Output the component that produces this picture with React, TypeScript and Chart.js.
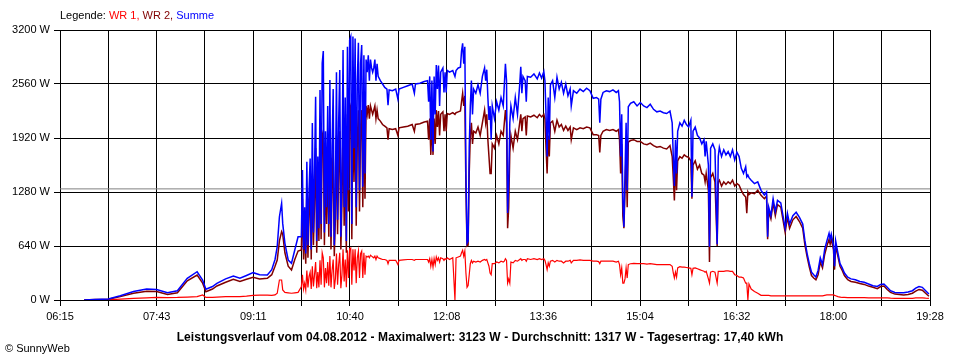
import React, { useEffect, useRef } from "react";
import { Chart, registerables } from "chart.js";

Chart.register(...registerables);

// time axis: minutes since midnight (06:15 .. 19:28)
const xStart = 375;
const xEnd = 1168;
const xTickLabels = [
  "06:15", "", "07:43", "", "09:11", "", "10:40", "", "12:08", "",
  "13:36", "", "15:04", "", "16:32", "", "18:00", "", "19:28",
];
const yMax = 3200;
const yStep = 640;
const averageW = 1317;

const times = [
  397, 407, 419, 430, 442, 454, 463, 473, 482, 491,
  500, 505, 508, 514, 518, 526, 533, 539, 545, 551,
  557, 564, 568, 571, 573, 575, 577, 578, 580, 583,
  586, 589, 592, 595, 596, 597, 598, 599, 600, 601,
  602, 603, 604, 605, 606, 607, 608, 609, 610, 611,
  612, 613, 614, 615, 616, 617, 618, 619, 620, 621,
  622, 623, 624, 625, 626, 627, 628, 629, 630, 631,
  632, 633, 634, 635, 636, 637, 638, 639, 640, 641,
  642, 643, 644, 645, 646, 647, 648, 649, 650, 651,
  652, 653, 654, 655, 656, 657, 658, 659, 660, 661,
  662, 663, 664, 665, 667, 669, 671, 673, 674, 675,
  678, 681, 683, 684, 688, 692, 696, 698, 699, 703,
  707, 710, 711, 712, 713, 714, 715, 716, 717, 718,
  719, 720, 721, 722, 724, 725, 726, 727, 728, 730,
  733, 735, 736, 738, 740, 741, 742, 743, 744, 745,
  746, 747, 748, 749, 750, 751, 752, 754, 756, 758,
  760, 762, 763, 764, 765, 766, 767, 768, 769, 771,
  773, 775, 777, 779, 780, 781, 782, 783, 784, 785,
  786, 788, 790, 792, 794, 795, 796, 797, 799, 800,
  801, 804, 807, 810, 812, 814, 816, 817, 818, 819,
  820, 821, 822, 824, 826, 828, 830, 832, 834, 836,
  838, 840, 841, 843, 846, 849, 852, 855, 858, 861,
  864, 866, 867, 868, 870, 873, 876, 879, 882, 884,
  885, 886, 887, 888, 889, 890, 891, 892, 893, 895,
  898, 901, 904, 907, 910, 913, 916, 919, 922, 925,
  928, 931, 933, 934, 935, 936, 937, 938, 940, 942,
  944, 946, 948, 950, 951, 952, 954, 956, 958, 960,
  962, 963, 964, 966, 967, 968, 970, 972, 974, 975,
  976, 978, 980, 982, 984, 986, 988, 990, 992, 994,
  996, 998, 1000, 1001, 1002, 1003, 1005, 1008, 1011, 1014,
  1017, 1019, 1020, 1021, 1023, 1025, 1027, 1029, 1032, 1034,
  1036, 1038, 1040, 1043, 1046, 1049, 1052, 1054, 1056, 1058,
  1060, 1062, 1064, 1066, 1068, 1070, 1072, 1074, 1076, 1077,
  1078, 1080, 1081, 1082, 1084, 1086, 1088, 1090, 1093, 1096,
  1100, 1104, 1108, 1112, 1116, 1120, 1123, 1126, 1129, 1132,
  1136, 1140, 1144, 1148, 1152, 1155, 1158, 1161, 1164, 1167,
];

const summe = [
  0, 5, 12, 50, 100, 130, 125, 85, 110, 257,
  335, 237, 127, 160, 198, 250, 284, 257, 290, 324,
  300, 296, 360, 480, 632, 987, 1146, 908, 672, 474,
  435, 593, 750, 750, 1540, 600, 1100, 550, 1639, 650,
  1300, 1678, 600, 2097, 800, 1500, 2409, 700, 1700, 850,
  2488, 900, 2805, 2950, 800, 2000, 1100, 2300, 900, 2607,
  750, 1800, 2500, 650, 1200, 2700, 950, 2100, 2726, 750,
  1500, 2962, 1100, 2400, 700, 3000, 1300, 3080, 3120, 900,
  3123, 1800, 3100, 1100, 2600, 3050, 1300, 2805, 3022, 1343,
  2900, 1500, 2850, 2700, 2900, 2600, 2850, 2750, 2700, 2750,
  2850, 2600, 2800, 2650, 2600, 2560, 2520, 2500, 2310, 2490,
  2480, 2500, 2380, 2500, 2520, 2540, 2560, 2450, 2560, 2570,
  2590, 2600, 2350, 2650, 1900, 2600, 1760, 2650, 2200, 2785,
  2500, 2780, 2300, 2700, 2750, 2460, 2700, 2460, 2720, 2700,
  2720, 2650, 2720, 2750, 2760, 2950, 3042, 2800, 3000, 1500,
  675, 700, 1800, 2300, 2600, 2200, 2500, 2450, 2550, 2450,
  2650, 2750, 2600, 2730, 2400, 2133, 2300, 1900, 2300, 2150,
  2350, 2250, 2400, 2300, 2550, 2800, 2600, 1030, 1400, 2100,
  2300, 2150, 2400, 2200, 2550, 2765, 2450, 2650, 2600, 2350,
  2650, 2640, 2680, 2620, 2690, 2630, 2706, 2600, 2200, 1700,
  2400, 1900, 2550, 2600, 2400, 2640, 2500, 2580, 2450, 2560,
  2420, 2500, 2300, 2480, 2450, 2500, 2470, 2510, 2480, 2390,
  2400, 2380, 2100, 2380, 2460, 2480, 2470, 2490, 2460, 2480,
  2350, 1700, 2200, 1200, 867, 1500, 2100, 1300, 2290, 2330,
  2350, 2300, 2340, 2300, 2280, 2320, 2260, 2230, 2240, 2220,
  2210, 2240, 2100, 1700, 1350, 1900, 1500, 2000, 2100, 2060,
  2130, 2080, 2050, 2130, 1225, 2000, 2050, 1950, 1920, 1850,
  1900, 1700, 1880, 1600, 632, 1800, 1850, 1780, 660, 1700,
  1810, 1700, 1780, 1720, 1760, 1700, 1780, 1660, 1750, 1700,
  1560, 1500, 1580, 1460, 1480, 1450, 1420, 1380, 1400, 1300,
  1245, 1280, 750, 1100, 1000, 1200, 1050, 1180, 1150, 1000,
  850, 1030, 900, 1000, 1040, 980, 900, 700, 550, 430,
  330, 300, 272, 350, 500, 420, 600, 700, 790, 720,
  780, 650, 400, 700, 560, 430, 380, 320, 270, 250,
  240, 220, 210, 190, 170, 160, 185, 190, 150, 110,
  90, 85, 85, 95, 110, 140, 160, 150, 110, 70,
];

const wr2 = [
  0, 5, 10, 40, 80, 105, 100, 65, 85, 227,
  296, 200, 98, 130, 166, 210, 245, 220, 245, 269,
  250, 257, 300, 400, 474, 700, 810, 780, 560, 400,
  356, 480, 580, 593, 1200, 480, 900, 430, 1300, 500,
  1000, 1350, 480, 1500, 650, 1150, 1800, 560, 1300, 700,
  1850, 720, 1950, 2000, 650, 1500, 900, 1700, 750, 1900,
  600, 1350, 1800, 520, 950, 1950, 780, 1550, 2000, 600,
  1150, 2100, 880, 1750, 560, 2200, 1050, 2250, 2300, 720,
  2350, 1400, 2300, 880, 1900, 2250, 1050, 2050, 2250, 1100,
  2150, 1200, 2300, 2200, 2310, 2150, 2300, 2250, 2200, 2250,
  2300, 2150, 2250, 2150, 2120, 2080, 2060, 2040, 1900, 2030,
  2020, 2030, 1950, 2040, 2050, 2060, 2080, 2000, 2080, 2090,
  2110, 2120, 1900, 2150, 1720, 2100, 1720, 2150, 1850, 2250,
  2050, 2240, 1950, 2200, 2230, 2000, 2200, 2000, 2210, 2200,
  2220, 2200, 2220, 2230, 2240, 2350, 2450, 2300, 2420, 1300,
  640, 650, 1500, 1950, 2100, 1850, 2000, 1980, 2050, 1950,
  2100, 2250, 2100, 2200, 1900, 1700, 1500, 1500, 1850, 1800,
  1950, 1850, 2000, 1950, 2100, 2250, 2100, 850, 1100, 1750,
  1950, 1800, 2000, 1900, 2100, 2200, 2000, 2150, 2170, 1950,
  2180, 2170, 2190, 2160, 2200, 2170, 2200, 2150, 1800, 1500,
  1950, 1700, 2100, 2120, 2000, 2130, 2050, 2080, 2010, 2060,
  2010, 2050, 1900, 2040, 2020, 2040, 2030, 2050, 2040, 1960,
  1960, 1950, 1750, 1950, 2000, 2020, 2010, 2020, 2000, 2020,
  1900, 1500, 1850, 1000, 850, 1300, 1750, 1100, 1870, 1890,
  1900, 1880, 1880, 1850, 1840, 1860, 1830, 1810, 1820, 1800,
  1790, 1830, 1700, 1450, 1180, 1600, 1300, 1650, 1700, 1680,
  1720, 1700, 1690, 1650, 1200, 1600, 1650, 1550, 1600, 1500,
  1480, 1400, 1500, 1300, 450, 1450, 1500, 1400, 640, 1400,
  1420, 1350, 1400, 1370, 1400, 1380, 1420, 1350, 1380, 1360,
  1300, 1250, 1220, 1030, 1280, 1250, 1270, 1260, 1300, 1240,
  1200, 1230, 720, 1050, 960, 1150, 1000, 1130, 1100, 950,
  800, 980, 850, 950, 990, 930, 850, 650, 510, 390,
  290, 260, 240, 300, 450, 380, 540, 640, 720, 660,
  720, 600, 360, 640, 520, 400, 350, 290, 240, 220,
  210, 195, 185, 165, 150, 135, 160, 165, 125, 90,
  70, 65, 60, 65, 80, 105, 125, 115, 80, 45,
];

const wr1 = [
  0, 0, 2, 10, 20, 25, 30, 28, 30, 35,
  40, 59, 30, 32, 35, 40, 40, 40, 45, 55,
  58, 58, 55, 60, 80, 237, 237, 120, 90, 85,
  80, 85, 90, 157, 300, 130, 200, 120, 350, 150,
  280, 330, 130, 400, 160, 300, 450, 140, 330, 150,
  470, 180, 560, 500, 150, 380, 200, 450, 170, 520,
  150, 350, 480, 130, 250, 550, 180, 420, 560, 140,
  300, 600, 220, 480, 150, 590, 260, 610, 616, 180,
  600, 350, 600, 200, 500, 580, 260, 550, 580, 260,
  560, 300, 520, 510, 520, 500, 530, 520, 510, 500,
  520, 480, 520, 500, 490, 480, 480, 470, 430, 470,
  470, 470, 420, 470, 475, 480, 480, 470, 480, 480,
  480, 480, 450, 490, 400, 480, 390, 490, 420, 510,
  470, 500, 450, 500, 490, 470, 490, 480, 500, 480,
  500, 0, 500, 510, 520, 560, 590, 520, 580, 320,
  150, 170, 300, 430, 470, 440, 460, 450, 460, 450,
  470, 480, 470, 480, 440, 400, 320, 300, 430, 430,
  450, 440, 460, 450, 460, 490, 470, 200, 250, 200,
  450, 440, 470, 460, 480, 490, 470, 480, 480, 460,
  490, 480, 490, 480, 490, 480, 490, 470, 420, 360,
  440, 400, 460, 470, 450, 470, 460, 460, 440, 460,
  460, 470, 440, 470, 470, 475, 470, 470, 470, 460,
  460, 455, 430, 460, 460, 460, 460, 460, 450, 460,
  420, 300, 380, 200, 200, 250, 380, 260, 420, 430,
  435, 430, 430, 430, 425, 430, 425, 420, 420, 420,
  420, 420, 400, 320, 260, 330, 270, 380, 395, 390,
  390, 385, 380, 375, 300, 375, 380, 370, 360, 350,
  340, 330, 340, 250, 200, 330, 340, 330, 200, 340,
  340, 340, 340, 345, 345, 340, 340, 300, 290, 270,
  270, 260, 200, 200, 0, 190, 130, 100, 80, 55,
  55, 55, 55, 55, 50, 50, 50, 50, 50, 50,
  50, 50, 50, 50, 50, 50, 50, 50, 50, 50,
  50, 50, 50, 50, 50, 50, 55, 60, 60, 60,
  60, 60, 55, 50, 40, 35, 30, 30, 28, 28,
  28, 28, 28, 25, 25, 25, 25, 25, 25, 22,
  20, 20, 20, 20, 20, 25, 25, 25, 22, 20,
];

const FONT = "'Liberation Sans', Arial, sans-serif";

export default function App() {
  const ref = useRef<HTMLCanvasElement>(null);

  useEffect(() => {
    if (!ref.current) return;
    const mk = (vals: number[]) => times.map((t, i) => ({ x: t, y: vals[i] }));
    const chart = new Chart(ref.current, {
      type: "line",
      data: {
        datasets: [
          { label: "Summe", data: mk(summe), borderColor: "#0000ff", borderWidth: 1.5, pointRadius: 0, tension: 0, order: 1 },
          { label: "WR 2", data: mk(wr2), borderColor: "#800000", borderWidth: 1.5, pointRadius: 0, tension: 0, order: 2 },
          { label: "WR 1", data: mk(wr1), borderColor: "#ff0000", borderWidth: 1.2, pointRadius: 0, tension: 0, order: 3 },
          {
            label: "Durchschnitt",
            data: [{ x: xStart, y: averageW }, { x: xEnd, y: averageW }],
            borderColor: "#808080",
            borderWidth: 1,
            pointRadius: 0,
            order: 4,
          },
        ],
      },
      options: {
        animation: false,
        responsive: false,
        maintainAspectRatio: false,
        events: [],
        layout: { padding: { left: 0, right: 30, top: 30, bottom: 0 } },
        plugins: { legend: { display: false }, tooltip: { enabled: false }, title: { display: false } },
        scales: {
          x: {
            type: "linear",
            min: xStart,
            max: xEnd,
            afterBuildTicks: (scale: any) => {
              scale.ticks = xTickLabels.map((_, i) => ({ value: xStart + (i * (xEnd - xStart)) / (xTickLabels.length - 1) }));
            },
            afterFit: (scale: any) => {
              scale.height = 60;
            },
            ticks: {
              autoSkip: false,
              maxRotation: 0,
              color: "#000",
              padding: 4,
              font: { family: FONT, size: 11 },
              callback: (_v: any, i: number) => xTickLabels[i],
            },
            grid: { color: "#000", lineWidth: 1, tickLength: 6, tickColor: "#000" },
            border: { color: "#000", width: 1 },
          },
          y: {
            type: "linear",
            min: 0,
            max: yMax,
            afterFit: (scale: any) => {
              scale.width = 60;
            },
            ticks: {
              stepSize: yStep,
              color: "#000",
              padding: 4,
              font: { family: FONT, size: 11 },
              callback: (v: any) => `${v} W`,
            },
            grid: { color: "#000", lineWidth: 1, tickLength: 6, tickColor: "#000" },
            border: { color: "#000", width: 1 },
          },
        },
      },
    } as any);
    return () => chart.destroy();
  }, []);

  return (
    <div
      style={{
        position: "fixed",
        left: 0,
        top: 0,
        width: 960,
        height: 360,
        background: "#fff",
        fontFamily: FONT,
        fontSize: 11,
        color: "#000",
      }}
    >
      <canvas ref={ref} width={960} height={360} style={{ position: "absolute", left: 0, top: 0 }} />
      <div style={{ position: "absolute", left: 60, top: 9, whiteSpace: "nowrap", lineHeight: "13px" }}>
        Legende: <span style={{ color: "#ff0000" }}>WR 1,</span> <span style={{ color: "#800000" }}>WR 2,</span>{" "}
        <span style={{ color: "#0000ff" }}>Summe</span>
      </div>
      <div
        style={{
          position: "absolute",
          left: 0,
          width: 960,
          top: 330,
          textAlign: "center",
          fontWeight: "bold",
          fontSize: 12,
          letterSpacing: "0.1px",
          whiteSpace: "nowrap",
          lineHeight: "14px",
        }}
      >
        Leistungsverlauf vom 04.08.2012 - Maximalwert: 3123 W - Durchschnitt: 1317 W - Tagesertrag: 17,40 kWh
      </div>
      <div style={{ position: "absolute", left: 5, top: 342, whiteSpace: "nowrap", lineHeight: "13px" }}>© SunnyWeb</div>
    </div>
  );
}
